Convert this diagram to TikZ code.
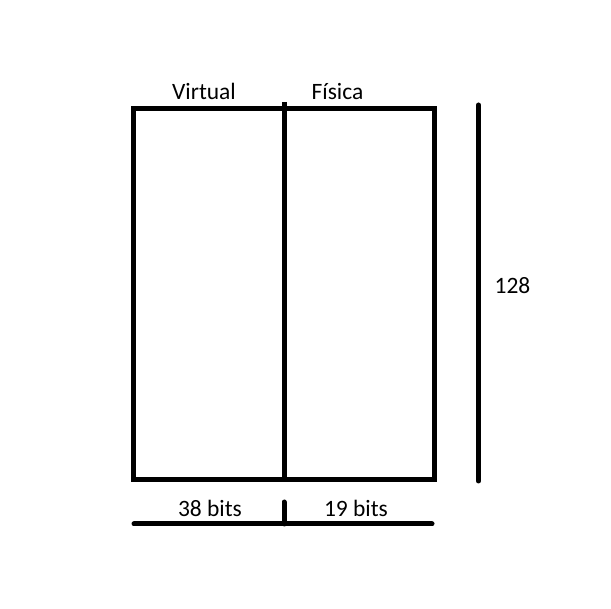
\documentclass[tikz,border=0pt]{standalone}
\usepackage{fontspec}
\setmainfont{Carlito}
\usetikzlibrary{positioning}

\begin{document}
\begin{tikzpicture}[
  x=0.75pt, y=-0.75pt,
  line width=3.75pt,
  lbl/.style={anchor=base, inner sep=0pt, font=\fontsize{17.6}{20}\selectfont},
  bar/.style={line cap=round}
]
\useasboundingbox (0,0) rectangle (611,609);
% table
\coordinate (tl) at (133,109);
\coordinate (br) at (434,480);
\draw (tl) rectangle (br);
\coordinate (divtop) at (284,102);
\coordinate (divbot) at (284,480);
\draw (divtop) -- (divbot);
% height bar
\coordinate (htop) at (478.5,105);
\coordinate (hbot) at (478.5,481);
\draw[bar] (htop) -- (hbot);
% width bar
\coordinate (wl) at (134,524);
\coordinate (wr) at (432,524);
\coordinate (wm) at (284,524);
\coordinate (tick) at (284,502);
\draw[bar] (wl) -- (wr);
\draw[bar] (tick) -- (wm);
% labels
\node[lbl] (virt) at (204,100) {Virtual};
\node[lbl] (fis) at (337.5,100) {Física};
\node[lbl] (filas) at (512.5,294) {128};
\node[lbl] (bitsv) at (210,517) {38 bits};
\node[lbl] (bitsf) at (356,517) {19 bits};
\end{tikzpicture}
\end{document}
